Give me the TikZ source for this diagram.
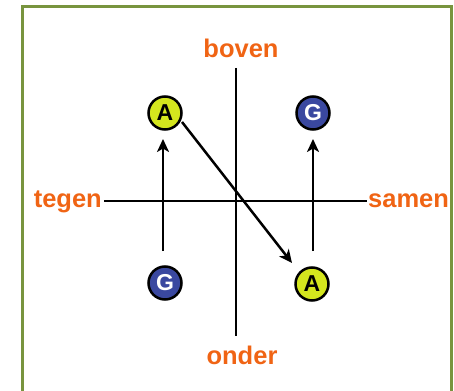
\documentclass[tikz,border=0pt]{standalone}
\usepackage{fontspec}
\setmainfont{Liberation Sans}
\usetikzlibrary{arrows.meta}
\definecolor{frameg}{RGB}{120,148,62}
\definecolor{lbl}{RGB}{240,100,20}
\definecolor{ygreen}{RGB}{212,230,30}
\definecolor{bblue}{RGB}{58,72,160}
\begin{document}
\begin{tikzpicture}[x=1pt,y=-1pt,
  axis/.style={line width=2.5pt,black},
  arr/.style={line width=2.5pt,black,-{Stealth[length=13pt,width=12pt,inset=3.5pt]}},
  lab/.style={text=lbl,font=\bfseries\fontsize{25.5}{25.5}\selectfont,inner sep=0pt},
  ball/.style={circle,draw=black,line width=2.5pt,minimum size=33pt,inner sep=0pt,font=\bfseries\fontsize{23}{23}\selectfont},
  aball/.style={ball,fill=ygreen,text=black},
  gball/.style={ball,fill=bblue,text=white}]
\useasboundingbox (0,0) rectangle (454,390);
\draw[frameg,line width=2.4pt] (22.5,400) -- (22.5,6.5) -- (451.5,6.5) -- (451.5,400);
\coordinate (vt) at (236,68);
\coordinate (vb) at (236,336);
\coordinate (hl) at (104,201);
\coordinate (hr) at (367,201);
\draw[axis] (vt) -- (vb);
\draw[axis] (hl) -- (hr);
\node[lab,anchor=base] (boven) at (241,58) {boven};
\node[lab,anchor=base] (onder) at (242,364) {onder};
\node[lab,anchor=base east] (tegen) at (102,207) {tegen};
\node[lab,anchor=base west] (samen) at (368,207) {samen};
\node[aball] (a1) at (165,113) {A};
\node[gball] (g1) at (313,113) {G};
\node[gball] (g2) at (165,283) {G};
\node[aball] (a2) at (312,284) {A};
\coordinate (l1) at (163,251);
\coordinate (l2) at (163,139);
\coordinate (r1) at (313,251);
\coordinate (r2) at (313,139);
\draw[arr] (l1) -- (l2);
\draw[arr] (r1) -- (r2);
\draw[arr] (182,122) -- (292,263);
\end{tikzpicture}
\end{document}
